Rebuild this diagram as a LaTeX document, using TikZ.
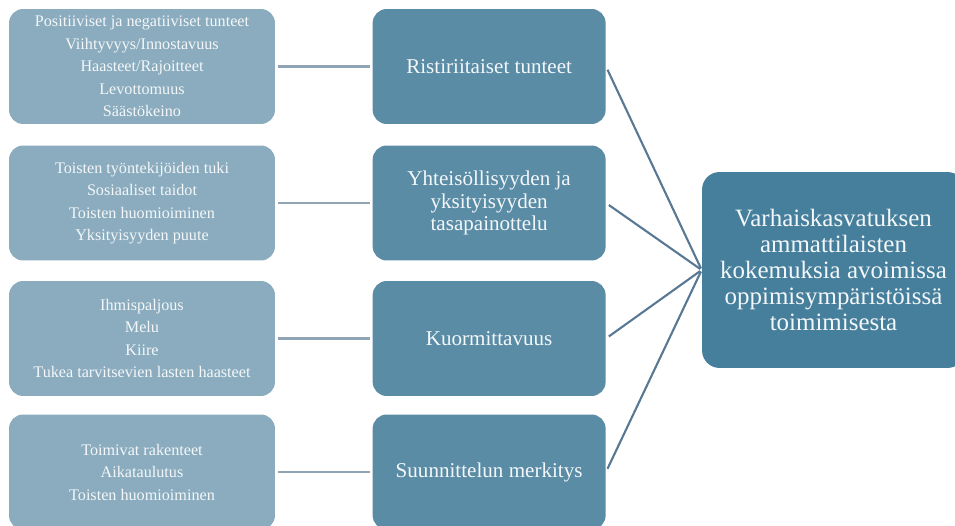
\documentclass[tikz,border=0pt]{standalone}
\usepackage{fontspec}
\setmainfont{Liberation Serif}
\usetikzlibrary{positioning}
\definecolor{leafblue}{RGB}{138,172,190}
\definecolor{themeblue}{RGB}{90,140,166}
\definecolor{mainblue}{RGB}{70,127,156}
\definecolor{leafgrey}{RGB}{143,164,180}
\definecolor{linkblue}{RGB}{88,120,148}
\definecolor{paletext}{RGB}{244,247,249}

\begin{document}
\begin{tikzpicture}[
  x=0.02cm, y=-0.02cm,
  leafbox/.style={fill=leafblue, rounded corners=8pt, minimum width=5.32cm, minimum height=2.3cm,
    align=center, text=paletext, inner sep=0pt, font=\fontsize{9.2}{12.8}\selectfont},
  themebox/.style={fill=themeblue, rounded corners=8pt, minimum width=4.66cm, minimum height=2.3cm,
    align=center, text=paletext, inner sep=0pt, font=\fontsize{12}{12.6}\selectfont},
  mainbox/.style={fill=mainblue, rounded corners=10pt, minimum width=5.26cm, minimum height=3.92cm,
    align=center, text=paletext, inner sep=0pt, font=\fontsize{14.2}{14.8}\selectfont},
  leafline/.style={draw=leafgrey, line width=1.2pt, shorten <=1.5pt, shorten >=1.5pt},
  themeline/.style={draw=linkblue, line width=1.2pt, shorten <=2pt, shorten >=1pt}
]
  \useasboundingbox (0,0) rectangle (955,526);
  \clip (0,0) rectangle (955,526);

  % left column
  \node[leafbox] (feel) at (142,66.5) {
    Positiiviset ja negatiiviset tunteet\\
    Viihtyvyys/Innostavuus\\
    Haasteet/Rajoitteet\\
    Levottomuus\\
    Säästökeino
  };
  \node[leafbox] (social) at (142,203) {
    Toisten työntekijöiden tuki\\
    Sosiaaliset taidot\\
    Toisten huomioiminen\\
    Yksityisyyden puute
  };
  \node[leafbox] (load) at (142,338.5) {
    Ihmispaljous\\
    Melu\\
    Kiire\\
    Tukea tarvitsevien lasten haasteet
  };
  \node[leafbox] (plan) at (142,472) {
    Toimivat rakenteet\\
    Aikataulutus\\
    Toisten huomioiminen
  };

  % middle column
  \node[themebox, right=1.94cm of feel] (conflict) {Ristiriitaiset tunteet};
  \node[themebox, right=1.94cm of social] (balance) {Yhteisöllisyyden ja\\ yksityisyyden\\ tasapainottelu};
  \node[themebox, right=1.94cm of load] (strain) {Kuormittavuus};
  \node[themebox, right=1.94cm of plan] (planning) {Suunnittelun merkitys};

  % main theme
  \node[mainbox] (main) at (833.5,270) {
    Varhaiskasvatuksen\\
    ammattilaisten\\
    kokemuksia avoimissa\\
    oppimisympäristöissä\\
    toimimisesta
  };

  \draw[leafline] (feel) -- (conflict);
  \draw[leafline] (social) -- (balance);
  \draw[leafline] (load) -- (strain);
  \draw[leafline] (plan) -- (planning);

  \draw[themeline] (conflict.east) -- (main.west);
  \draw[themeline] (balance.east) -- (main.west);
  \draw[themeline] (strain.east) -- (main.west);
  \draw[themeline] (planning.east) -- (main.west);
\end{tikzpicture}
\end{document}
